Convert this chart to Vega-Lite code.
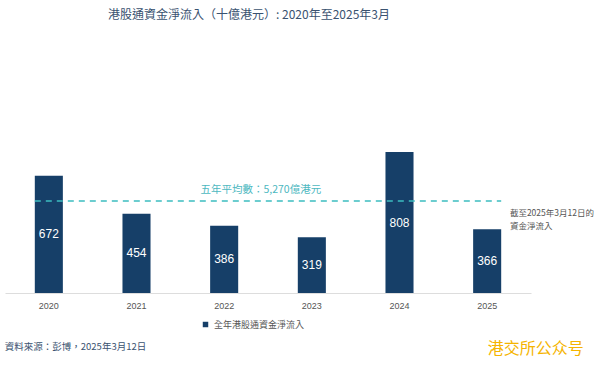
{
  "$schema": "https://vega.github.io/schema/vega-lite/v6.json",
  "autosize": "none",
  "width": 526,
  "height": 253,
  "padding": {"left": 5, "top": 40, "right": 85, "bottom": 73},
  "background": "white",
  "config": {
    "view": {"stroke": null},
    "font": "Noto Sans CJK TC",
    "text": {"fontWeight": "normal"}
  },
  "title": {
    "text": "港股通資金淨流入（十億港元）: 2020年至2025年3月",
    "anchor": "start",
    "frame": "group",
    "dx": 103,
    "offset": 18,
    "fontSize": 12,
    "fontWeight": "normal",
    "color": "#3A5270"
  },
  "data": {
    "values": [
      {"year": "2020", "v": 672},
      {"year": "2021", "v": 454},
      {"year": "2022", "v": 386},
      {"year": "2023", "v": 319},
      {"year": "2024", "v": 808},
      {"year": "2025", "v": 366}
    ]
  },
  "resolve": {"scale": {"y": "independent"}},
  "layer": [
    {
      "mark": {"type": "bar"},
      "encoding": {
        "x": {
          "field": "year", "type": "ordinal",
          "scale": {"paddingInner": 0.68, "paddingOuter": 0.34},
          "axis": {"title": null, "labelAngle": 0, "ticks": false, "labelFontSize": 9, "labelColor": "#555555", "domainColor": "#DDDDDD", "labelPadding": 8, "labelFont": "Liberation Sans"}
        },
        "y": {"field": "v", "type": "quantitative", "scale": {"domain": [0, 1450]}, "axis": null},
        "color": {
          "datum": "全年港股通資金淨流入",
          "type": "nominal",
          "scale": {"range": ["#163F68"]},
          "legend": {"title": null, "orient": "none", "legendX": 196, "legendY": 280, "symbolType": "square", "symbolSize": 30, "labelFontSize": 9, "labelColor": "#555555", "labelFontWeight": "normal"}
        }
      }
    },
    {
      "mark": {"type": "text", "color": "white", "fontSize": 12, "font": "Liberation Sans", "fontWeight": "normal"},
      "encoding": {
        "x": {"field": "year", "type": "ordinal"},
        "y": {"field": "v", "type": "quantitative", "scale": {"domain": [0, 2900]}, "axis": null},
        "text": {"field": "v", "type": "quantitative"}
      }
    },
    {
      "data": {"values": [{"avg": 527}]},
      "mark": {"type": "rule", "color": "#3DBDC0", "strokeWidth": 1.5, "strokeDash": [6, 5]},
      "encoding": {
        "x": {"datum": "2020", "type": "ordinal", "bandPosition": 0},
        "x2": {"datum": "2025", "bandPosition": 1},
        "y": {"field": "avg", "type": "quantitative", "scale": {"domain": [0, 1450]}, "axis": null}
      }
    },
    {
      "data": {"values": [{"avg": 527, "label": "五年平均數：5,270億港元"}]},
      "mark": {"type": "text", "color": "#4DB8BF", "fontSize": 10.5, "fontWeight": "normal", "align": "center", "baseline": "bottom", "dx": -37, "dy": -6},
      "encoding": {
        "x": {"datum": "2023", "type": "ordinal", "bandPosition": 0},
        "y": {"field": "avg", "type": "quantitative", "scale": {"domain": [0, 1450]}, "axis": null},
        "text": {"field": "label"}
      }
    },
    {
      "data": {"values": [{"note": "截至2025年3月12日的"}]},
      "mark": {"type": "text", "color": "#555555", "fontSize": 8.5, "fontWeight": "normal", "align": "left", "baseline": "middle", "lineHeight": 13},
      "encoding": {
        "x": {"datum": "2025", "type": "ordinal", "bandPosition": 1.31},
        "y": {"datum": 459, "type": "quantitative", "scale": {"domain": [0, 1450]}, "axis": null},
        "text": {"value": ["截至2025年3月12日的", "資金淨流入"]}
      }
    },
    {
      "data": {"values": [{"src": "資料來源：彭博，2025年3月12日"}]},
      "mark": {"type": "text", "color": "#3A5270", "fontSize": 9.5, "fontWeight": "normal", "align": "left", "baseline": "middle", "dx": -30},
      "encoding": {
        "x": {"datum": "2020", "type": "ordinal", "bandPosition": 0},
        "y": {"datum": -309, "type": "quantitative", "scale": {"domain": [0, 1450]}, "axis": null},
        "text": {"field": "src"}
      }
    },
    {
      "data": {"values": [{"wm": "港交所公众号"}]},
      "mark": {"type": "text", "color": "#F5B400", "fontSize": 16, "fontWeight": "normal", "align": "left", "baseline": "middle", "font": "Noto Sans CJK SC"},
      "encoding": {
        "x": {"datum": "2025", "type": "ordinal", "bandPosition": 0.52},
        "y": {"datum": -320, "type": "quantitative", "scale": {"domain": [0, 1450]}, "axis": null},
        "text": {"field": "wm"}
      }
    }
  ]
}
